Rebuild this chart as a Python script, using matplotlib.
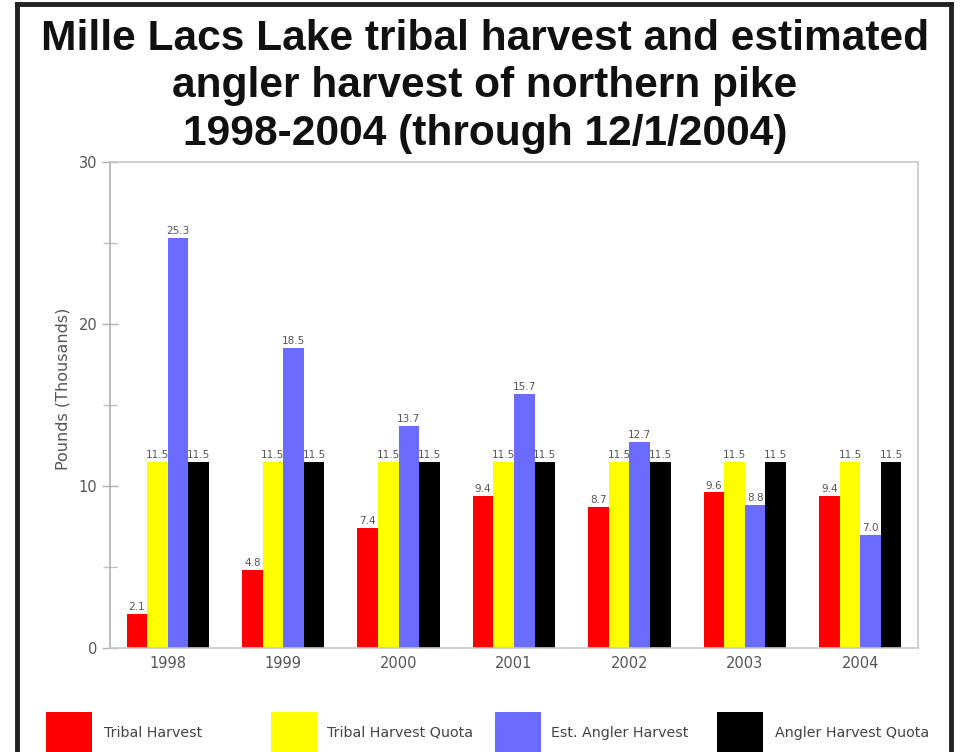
import matplotlib
matplotlib.use("Agg")
import matplotlib.pyplot as plt
import numpy as np
from matplotlib.lines import Line2D
from matplotlib.patches import Rectangle

# Harvest data (thousands of pounds)
years = ["1998", "1999", "2000", "2001", "2002", "2003", "2004"]
tribal_harvest = [2.1, 4.8, 7.4, 9.4, 8.7, 9.6, 9.4]
tribal_quota = [11.5, 11.5, 11.5, 11.5, 11.5, 11.5, 11.5]
angler_harvest = [25.3, 18.5, 13.7, 15.7, 12.7, 8.8, 7.0]
angler_quota = [11.5, 11.5, 11.5, 11.5, 11.5, 11.5, 11.5]

series_names = ["Tribal Harvest", "Tribal Harvest Quota",
                "Est. Angler Harvest", "Angler Harvest Quota"]
series_values = [tribal_harvest, tribal_quota, angler_harvest, angler_quota]
series_colors = ["#ff0000", "#ffff00", "#6b6bff", "#000000"]

W, H = 964, 752
fig = plt.figure(figsize=(W / 100, H / 100), dpi=100)
fig.patch.set_facecolor("white")

def fx(px):
    return px / W

def fy(py):
    return 1 - py / H

# Plot area
ax = fig.add_axes([fx(110), fy(648), fx(918) - fx(110), fy(162) - fy(648)])

x = np.arange(len(years))
bw = 0.178
offsets = [-1.5, -0.5, 0.5, 1.5]
for vals, col, off in zip(series_values, series_colors, offsets):
    bars = ax.bar(x + off * bw, vals, width=bw, color=col, edgecolor="none")
    for b, v in zip(bars, vals):
        ax.text(b.get_x() + b.get_width() / 2, v + 0.12, f"{v:.1f}",
                ha="center", va="bottom", fontsize=7.5, color="#555555",
                family="DejaVu Sans")

ax.set_xlim(-0.5, len(years) - 0.5)
ax.set_ylim(0, 30)
ax.set_yticks([0, 10, 20, 30])
ax.set_yticks([5, 15, 25], minor=True)
ax.set_xticks(x)
ax.set_xticklabels(years)

for s in ax.spines.values():
    s.set_color("#c8c8c8")
    s.set_linewidth(1.2)
ax.spines["left"].set_color("#b0b0b0")

ax.tick_params(axis="y", which="major", direction="inout", length=12,
               width=1, color="#b0b0b0", labelsize=10.5, labelcolor="#555555",
               pad=3)
ax.tick_params(axis="y", which="minor", direction="inout", length=10,
               width=1, color="#c0c0c0")
ax.tick_params(axis="x", length=0, labelsize=10.5, labelcolor="#555555", pad=6)
for lab in ax.get_xticklabels() + ax.get_yticklabels():
    lab.set_family("DejaVu Sans")

ax.set_ylabel("Pounds (Thousands)", fontsize=11.5, color="#555555",
              family="DejaVu Sans")
ax.yaxis.set_label_coords((70 - 110) / 808, 0.533)

# Title
title_lines = ["Mille Lacs Lake tribal harvest and estimated",
               "angler harvest of northern pike",
               "1998-2004 (through 12/1/2004)"]
for line, base in zip(title_lines, [50, 97.5, 145]):
    fig.text(0.503, fy(base), line, ha="center", va="baseline",
             fontsize=30.6, fontweight="bold", color="#111111",
             family="Liberation Sans")

# Legend along the bottom
leg_patch_x = [46, 271, 495, 717]
leg_text_x = [104, 327, 551, 775]
for name, col, px, tx in zip(series_names, series_colors, leg_patch_x, leg_text_x):
    fig.add_artist(Rectangle((fx(px), fy(770)), fx(46), fy(712) - fy(770),
                             transform=fig.transFigure, facecolor=col,
                             edgecolor="none"))
    fig.text(fx(tx), fy(733), name, ha="left", va="center", fontsize=10.3,
             color="#444444", family="DejaVu Sans")

# Outer frame (open at the bottom)
frame_kw = dict(transform=fig.transFigure, color="#222222", linewidth=3.5,
                solid_capstyle="projecting")
fig.add_artist(Line2D([fx(17), fx(17)], [fy(4), fy(760)], **frame_kw))
fig.add_artist(Line2D([fx(17), fx(950.5)], [fy(4), fy(4)], **frame_kw))
fig.add_artist(Line2D([fx(950.5), fx(950.5)], [fy(4), fy(760)], **frame_kw))

fig.savefig("out.png", dpi=100)
